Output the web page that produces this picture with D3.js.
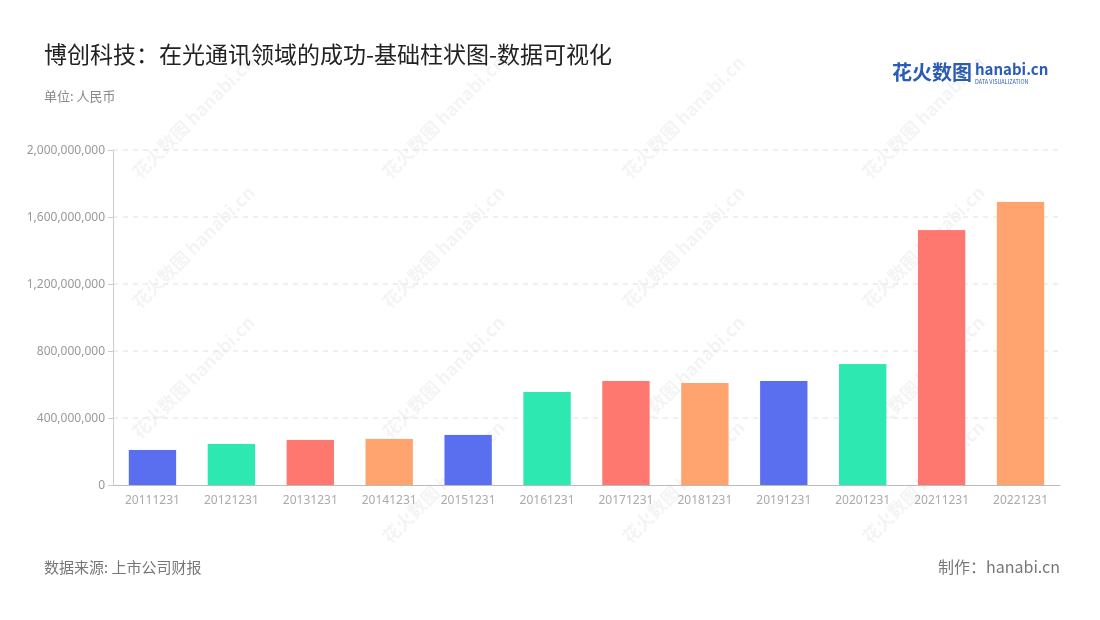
<!DOCTYPE html><html><head><meta charset="utf-8">
<script src="https://cdn.jsdelivr.net/npm/d3@7/dist/d3.min.js"></script>
<style>body{margin:0;background:#fff;font-family:"Noto Sans CJK SC","Noto Sans",sans-serif}</style></head><body>
<svg id="c" width="1100" height="620"></svg>
<script>
const categories=["20111231","20121231","20131231","20141231","20151231","20161231","20171231","20181231","20191231","20201231","20211231","20221231"];
const values=[209e6,245e6,269e6,275e6,299e6,555e6,621e6,609e6,621e6,722e6,1522e6,1690e6];
const tickValues=[0,4e8,8e8,12e8,16e8,20e8];
const palette=["#5a6ff0","#2de8b0","#ff7870","#ffa46f"];
const svg=d3.select("#c");
const x=d3.scaleBand().domain(categories).range([113,1060]).paddingInner(0.4).paddingOuter(0.2);
const y=d3.scaleLinear().domain([0,2e9]).range([485,150]);
const wm=svg.append("g").attr("fill","#000").attr("opacity",0.045).attr("font-weight","bold");
[[390,180],[630,180],[870,180],[140,310],[390,310],[630,310],[870,310],[140,440],[390,440],[630,440],[870,440],[390,545],[630,545],[870,545],[140,180]].forEach(([a,b])=>{
 wm.append("text").attr("transform",`translate(${a},${b}) rotate(-45)`).attr("font-size",18).text("花火数图 hanabi.cn");});
const g=svg.append("g");
g.selectAll("line.grid").data(tickValues.slice(1)).join("line").attr("x1",113).attr("x2",1060)
 .attr("y1",d=>y(d)).attr("y2",d=>y(d)).attr("stroke","#e0e0e0").attr("stroke-dasharray","5,5");
const ya=svg.append("g").attr("transform","translate(113,0)").call(d3.axisLeft(y).tickValues(tickValues).tickFormat(d3.format(",")).tickSize(5));
ya.select(".domain").attr("stroke","#ccc");ya.selectAll("line").attr("stroke","#ccc");
ya.selectAll("text").attr("fill","#999").attr("font-size",12).attr("font-family","Noto Sans");
svg.selectAll("rect.b").data(values).join("rect").attr("x",(d,i)=>x(categories[i])).attr("width",x.bandwidth())
 .attr("y",d=>y(d)).attr("height",d=>485-y(d)).attr("fill",(d,i)=>palette[i%4]);
const xa=svg.append("g").attr("transform","translate(0,485)").call(d3.axisBottom(x).tickSize(0).tickPadding(10));
xa.select(".domain").attr("stroke","#bbb");
xa.selectAll("text").attr("fill","#aaa").attr("font-size",12).attr("font-family","Noto Sans");
svg.append("text").attr("x",44).attr("y",63).attr("font-size",23).attr("fill","#222").text("博创科技：在光通讯领域的成功-基础柱状图-数据可视化");
svg.append("text").attr("x",44).attr("y",101).attr("font-size",13).attr("fill","#888").text("单位: 人民币");
svg.append("text").attr("x",44).attr("y",573).attr("font-size",15).attr("fill","#777").text("数据来源: 上市公司财报");
svg.append("text").attr("x",1060).attr("y",573).attr("text-anchor","end").attr("font-size",16).attr("fill","#777").text("制作：hanabi.cn");
svg.append("text").attr("x",892).attr("y",80).attr("font-size",20).attr("font-weight","bold").attr("fill","#2a5bb5").text("花火数图");
svg.append("text").attr("x",975).attr("y",75).attr("font-size",15).attr("font-weight","bold").attr("fill","#2a5bb5").text("hanabi.cn");
svg.append("text").attr("x",975).attr("y",84).attr("font-size",5.5).attr("fill","#2a5bb5").text("DATA VISUALIZATION");
</script></body></html>
